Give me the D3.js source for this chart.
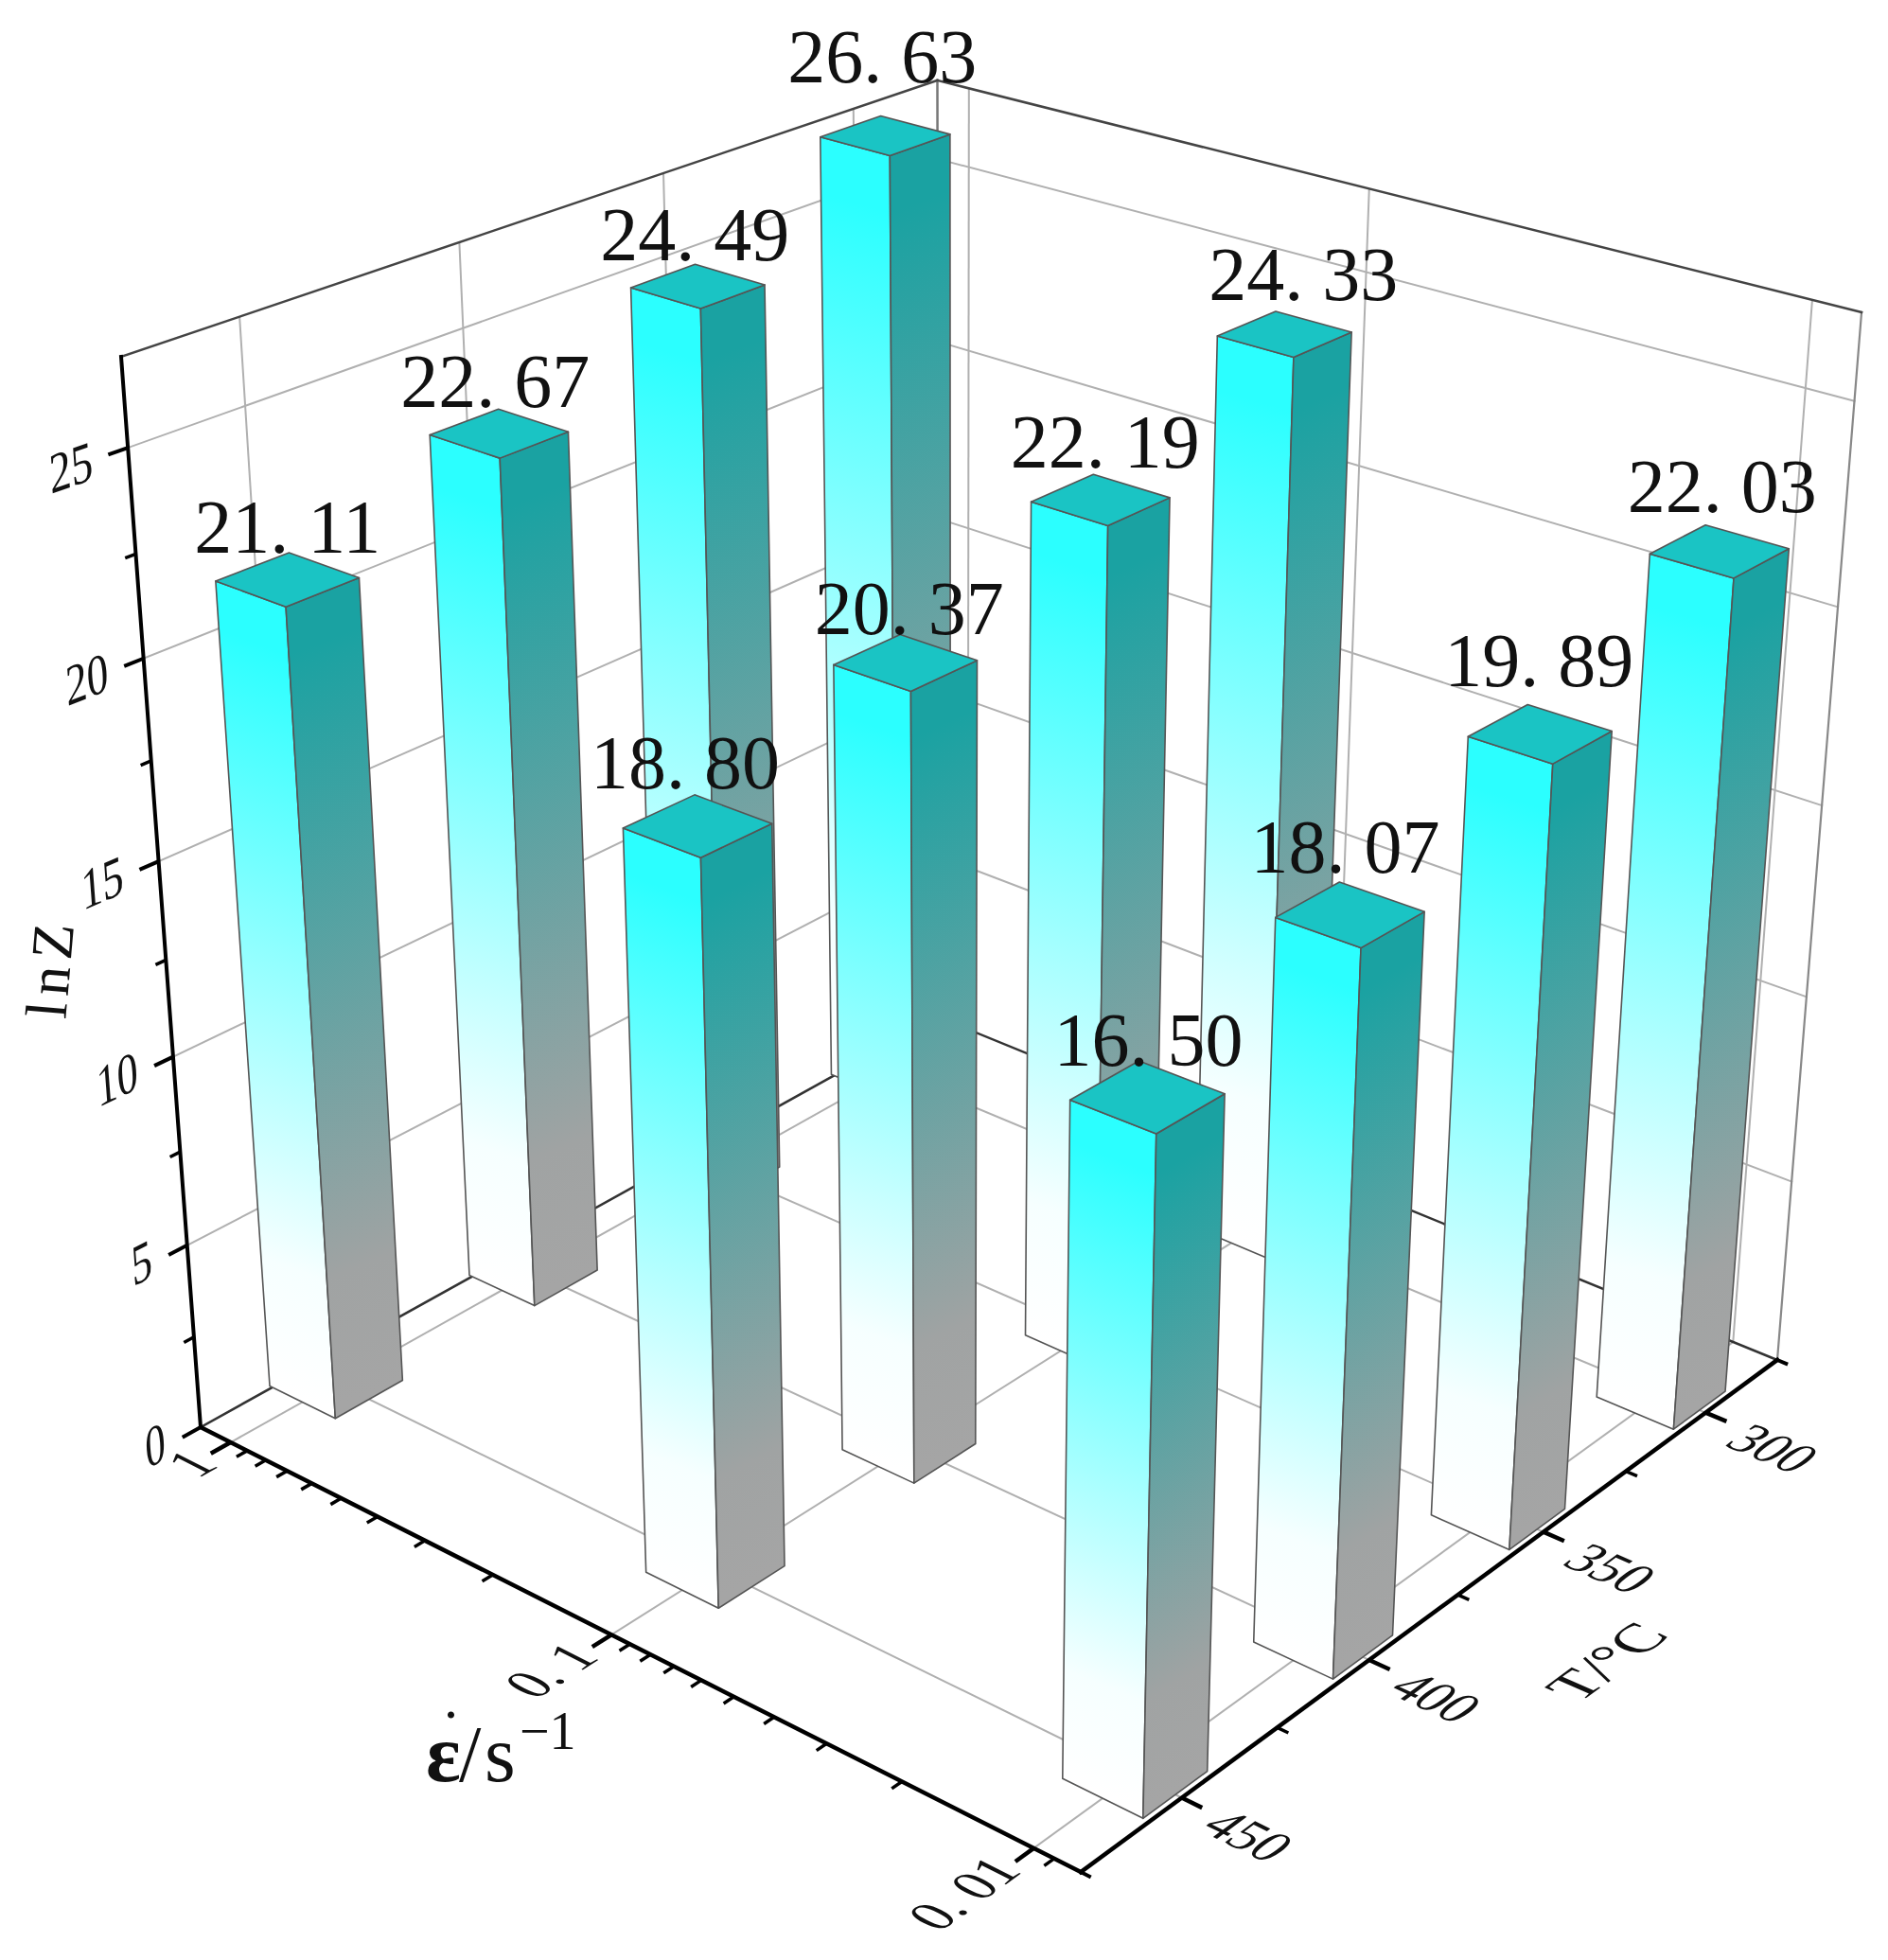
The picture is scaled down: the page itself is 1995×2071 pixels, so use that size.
<!DOCTYPE html>
<html>
<head>
<meta charset="utf-8">
<script src="https://cdn.jsdelivr.net/npm/d3@7"></script>
<style>
html,body{margin:0;padding:0;background:#fff}
svg{filter:blur(0.6px)}
text{font-family:"Liberation Serif",serif;fill:#111}
</style>
</head>
<body>
<svg id="chart" width="1995" height="2071"></svg>
<script>
// values
var strainRates = [1, 0.1, 0.01];
var temperatures = [300, 350, 400, 450];
// rows follow temperatures, columns follow strainRates
var lnZ = [
  [26.63, 24.33, 22.03],
  [24.49, 22.19, 19.89],
  [22.67, 20.37, 18.07],
  [21.11, 18.80, 16.50]
];
var zTicks = [0, 5, 10, 15, 20, 25];
var zMinor = [2.5, 7.5, 12.5, 17.5, 22.5];
var tMinor = [325, 375, 425];

// hand placed value labels, offset from the centre of each bar's top
var labelDx = [[-3, 20, 3], [-3, 5, -1], [-4, 4, -5], [0, -13, 1]];
var labelDy = [[-57, -36, -42], [-28, -34, -51], [-28, -30, -45], [-29, -40, -33]];

// box corners on the page: floor (O front-left, F front, R right, B back), then the wall height
var O = [212, 1508], F = [1142, 1978], R = [1878, 1437], B = [992, 1075];
var OTop = [128, 377], vanish = [1009, 12240];
// relative depth of the floor corners, sets how tall each corner looks
var depthO = 1, depthF = 0.872, depthR = 1.0257, depthB = 1.1705;

var uOf = d3.scaleLog().domain([1, 0.01]).range([0.038, 0.952]);
var vOf = d3.scaleLinear().domain([450, 300]).range([0.128, 0.883]);
var wOf = d3.scaleLinear().domain([0, 27.1]).range([0, 1]);
var half = 0.0415;

// square to quad homography for the floor
var sx = O[0] - F[0] + R[0] - B[0], sy = O[1] - F[1] + R[1] - B[1];
var dx1 = F[0] - R[0], dy1 = F[1] - R[1], dx2 = B[0] - R[0], dy2 = B[1] - R[1];
var den = dx1 * dy2 - dx2 * dy1;
var g = (sx * dy2 - dx2 * sy) / den, h = (dx1 * sy - sx * dy1) / den;
var a = F[0] - O[0] + g * F[0], b = B[0] - O[0] + h * B[0];
var d = F[1] - O[1] + g * F[1], e = B[1] - O[1] + h * B[1];
var s = (OTop[1] - O[1]) / (vanish[1] - OTop[1]);

function project(u, v, w) {
  var W = g * u + h * v + 1;
  var x0 = (a * u + b * v + O[0]) / W, y0 = (d * u + e * v + O[1]) / W;
  var depth = (1 - u) * (1 - v) * depthO + u * (1 - v) * depthF + u * v * depthR + (1 - u) * v * depthB;
  var k = depth + s * w;
  return [(x0 * depth + s * w * vanish[0]) / k, (y0 * depth + s * w * vanish[1]) / k];
}
function unit(p, q) {
  var dx = q[0] - p[0], dy = q[1] - p[1], n = Math.hypot(dx, dy);
  return [dx / n, dy / n];
}
function poly(pts) { return pts.map(function (p) { return p[0] + "," + p[1]; }).join(" "); }

var svg = d3.select("#chart");
var defs = svg.append("defs");

function line3(parent, p, q, color, width) {
  var a1 = project(p[0], p[1], p[2]), b1 = project(q[0], q[1], q[2]);
  parent.append("line").attr("x1", a1[0]).attr("y1", a1[1]).attr("x2", b1[0]).attr("y2", b1[1])
    .attr("stroke", color).attr("stroke-width", width).attr("stroke-linecap", "square");
}

// walls and floor grid
var grid = svg.append("g");
var gridColor = "#b0b0b0";
zTicks.slice(1).forEach(function (z) {
  var w = wOf(z);
  line3(grid, [0, 0, w], [0, 1, w], gridColor, 2);
  line3(grid, [0, 1, w], [1, 1, w], gridColor, 2);
});
temperatures.forEach(function (t) {
  var v = vOf(t);
  line3(grid, [0, v, 0], [0, v, 1], gridColor, 2);
  line3(grid, [0, v, 0], [1, v, 0], gridColor, 2);
});
strainRates.forEach(function (r) {
  var u = uOf(r);
  line3(grid, [u, 1, 0], [u, 1, 1], gridColor, 2);
  line3(grid, [u, 0, 0], [u, 1, 0], gridColor, 2);
});
line3(grid, [1, 1, 0], [1, 1, 1], "#888", 2.2);
line3(grid, [0, 1, 0], [0, 1, 1], "#777", 2.5);
line3(grid, [0, 0, 1], [0, 1, 1], "#444", 2.5);
line3(grid, [0, 1, 1], [1, 1, 1], "#444", 2.5);
line3(grid, [0, 0, 0], [0, 1, 0], "#333", 2.5);
line3(grid, [0, 1, 0], [1, 1, 0], "#333", 2.5);

// gradient that follows the top edge of a face
function faceGradient(id, p, q, pBottom, c0, c1, c2) {
  var t = unit(p, q), n = [-t[1], t[0]];
  var len = (pBottom[0] - p[0]) * n[0] + (pBottom[1] - p[1]) * n[1];
  var lg = defs.append("linearGradient").attr("id", id).attr("gradientUnits", "userSpaceOnUse")
    .attr("x1", p[0]).attr("y1", p[1]).attr("x2", p[0] + n[0] * len).attr("y2", p[1] + n[1] * len);
  lg.append("stop").attr("offset", 0.06).attr("stop-color", c0);
  lg.append("stop").attr("offset", 0.84).attr("stop-color", c1);
  lg.append("stop").attr("offset", 1).attr("stop-color", c2);
}

var bars = [];
temperatures.forEach(function (t, i) {
  strainRates.forEach(function (r, j) {
    bars.push({ t: t, r: r, z: lnZ[i][j], key: i + "_" + j, dx: labelDx[i][j], dy: labelDy[i][j] });
  });
});
// far bars first
bars.sort(function (p, q) { return (uOf(p.r) - vOf(p.t)) - (uOf(q.r) - vOf(q.t)); });

var barG = svg.append("g");
bars.forEach(function (bar) {
  var u0 = uOf(bar.r) - half, u1 = uOf(bar.r) + half;
  var v0 = vOf(bar.t) - half, v1 = vOf(bar.t) + half;
  var w = wOf(bar.z);
  var lt = project(u0, v0, w), ft = project(u1, v0, w), rt = project(u1, v1, w), bt = project(u0, v1, w);
  var lb = project(u0, v0, 0), fb = project(u1, v0, 0), rb = project(u1, v1, 0);
  faceGradient("L" + bar.key, lt, ft, lb, "#2bffff", "#f6ffff", "#ffffff");
  faceGradient("R" + bar.key, ft, rt, rb, "#1aa2a2", "#a0a3a3", "#a5a5a5");
  barG.append("polygon").attr("points", poly([lt, ft, fb, lb]))
    .attr("fill", "url(#L" + bar.key + ")").attr("stroke", "#555").attr("stroke-width", 1.6).attr("stroke-linejoin", "round");
  barG.append("polygon").attr("points", poly([ft, rt, rb, fb]))
    .attr("fill", "url(#R" + bar.key + ")").attr("stroke", "#555").attr("stroke-width", 1.6).attr("stroke-linejoin", "round");
  barG.append("polygon").attr("points", poly([lt, ft, rt, bt]))
    .attr("fill", "#1ac4c4").attr("stroke", "#555").attr("stroke-width", 1.6).attr("stroke-linejoin", "round");
  bar.cx = (lt[0] + rt[0]) / 2;
  bar.cy = (bt[1] + ft[1]) / 2;
});

// axes
var axes = svg.append("g");
line3(axes, [0, 0, 0], [0, 0, 1], "#000", 4);
line3(axes, [0, 0, 0], [1, 0, 0], "#000", 4.5);
line3(axes, [1, 0, 0], [1, 1, 0], "#000", 4.5);

function tick(p, dir, len, width) {
  axes.append("line").attr("x1", p[0]).attr("y1", p[1])
    .attr("x2", p[0] + dir[0] * len).attr("y2", p[1] + dir[1] * len)
    .attr("stroke", "#000").attr("stroke-width", width);
}
function dirV(u, v, w) { return unit(project(u, v, w), project(u, v + 0.02, w)); }
function dirU(u, v, w) { return unit(project(u, v, w), project(u + 0.02, v, w)); }
function neg(p) { return [-p[0], -p[1]]; }
var tickText = function (x) { return String(x).replace(".", ". "); };

// z axis
zTicks.forEach(function (z) {
  var p = project(0, 0, wOf(z)), dv = dirV(0, 0, wOf(z));
  tick(p, neg(dv), 22, 4);
  var dz = unit(p, project(0, 0, wOf(z) - 0.02));
  axes.append("text").text(z).attr("font-size", 48).attr("text-anchor", "end")
    .attr("transform", "matrix(" + [dv[0], dv[1], dz[0] * 1.25, dz[1] * 1.25, p[0] - 36, p[1] + 33].join(",") + ")");
});
zMinor.forEach(function (z) { tick(project(0, 0, wOf(z)), neg(dirV(0, 0, wOf(z))), 12, 3.5); });

// strain rate axis
uOf.copy().domain([1, 0.009]).ticks().forEach(function (r) {
  var major = strainRates.indexOf(r) >= 0;
  tick(project(uOf(r), 0, 0), neg(dirV(uOf(r), 0, 0)), major ? 24 : 13, major ? 4.5 : 3.5);
});
strainRates.forEach(function (r) {
  var p = project(uOf(r), 0, 0), dv = dirV(uOf(r), 0, 0), du = dirU(uOf(r), 0, 0);
  axes.append("text").text(tickText(r)).attr("font-size", 55).attr("text-anchor", "end")
    .attr("transform", "matrix(" + [dv[0], dv[1], du[0] * 1.12, du[1] * 1.12, p[0] - 11, p[1] + 25].join(",") + ")");
});

// temperature axis
d3.merge([temperatures, tMinor]).forEach(function (t) {
  var major = temperatures.indexOf(t) >= 0;
  tick(project(1, vOf(t), 0), dirU(1, vOf(t), 0), major ? 24 : 13, major ? 4.5 : 3.5);
  if (major) {
    var p = project(1, vOf(t), 0), dv = dirV(1, vOf(t), 0), du = dirU(1, vOf(t), 0);
    axes.append("text").text(t).attr("font-size", 54)
      .attr("transform", "matrix(" + [du[0], du[1], -dv[0] * 1.1, -dv[1] * 1.1, p[0] + 18, p[1] + 34].join(",") + ")");
  }
});
[0, 1].forEach(function (v) { tick(project(1, v, 0), dirU(1, v, 0), 12, 4); });

// axis titles
svg.append("text").text("lnZ").attr("font-size", 62).attr("letter-spacing", 7).attr("text-anchor", "middle")
  .attr("transform", "translate(74,1024) rotate(-85)");
var eps = svg.append("text").attr("y", 1882).attr("font-size", 84);
eps.append("tspan").text("ε").attr("x", 450).attr("font-weight", "bold").attr("font-size", 86);
eps.append("tspan").text(".").attr("x", 469).attr("dy", -67).attr("font-size", 60);
eps.append("tspan").text("/").attr("x", 485).attr("dy", 67);
eps.append("tspan").text("s").attr("x", 512);
eps.append("tspan").text("−1").attr("x", 549).attr("font-size", 56).attr("dy", -34);
(function () {
  var dv = dirV(1, 0.6, 0), du = dirU(1, 0.6, 0);
  svg.append("text").text("T/°C").attr("font-size", 62).attr("text-anchor", "middle")
    .attr("transform", "matrix(" + [dv[0], dv[1], du[0], du[1], 1717, 1764].join(",") + ")");
})();

// value labels on top of everything
var fmt = d3.format(".2f");
bars.forEach(function (bar) {
  svg.append("text").text(fmt(bar.z).replace(".", ". "))
    .attr("x", bar.cx + bar.dx).attr("y", bar.cy + bar.dy)
    .attr("font-size", 80).attr("text-anchor", "middle");
});
</script>
</body>
</html>
